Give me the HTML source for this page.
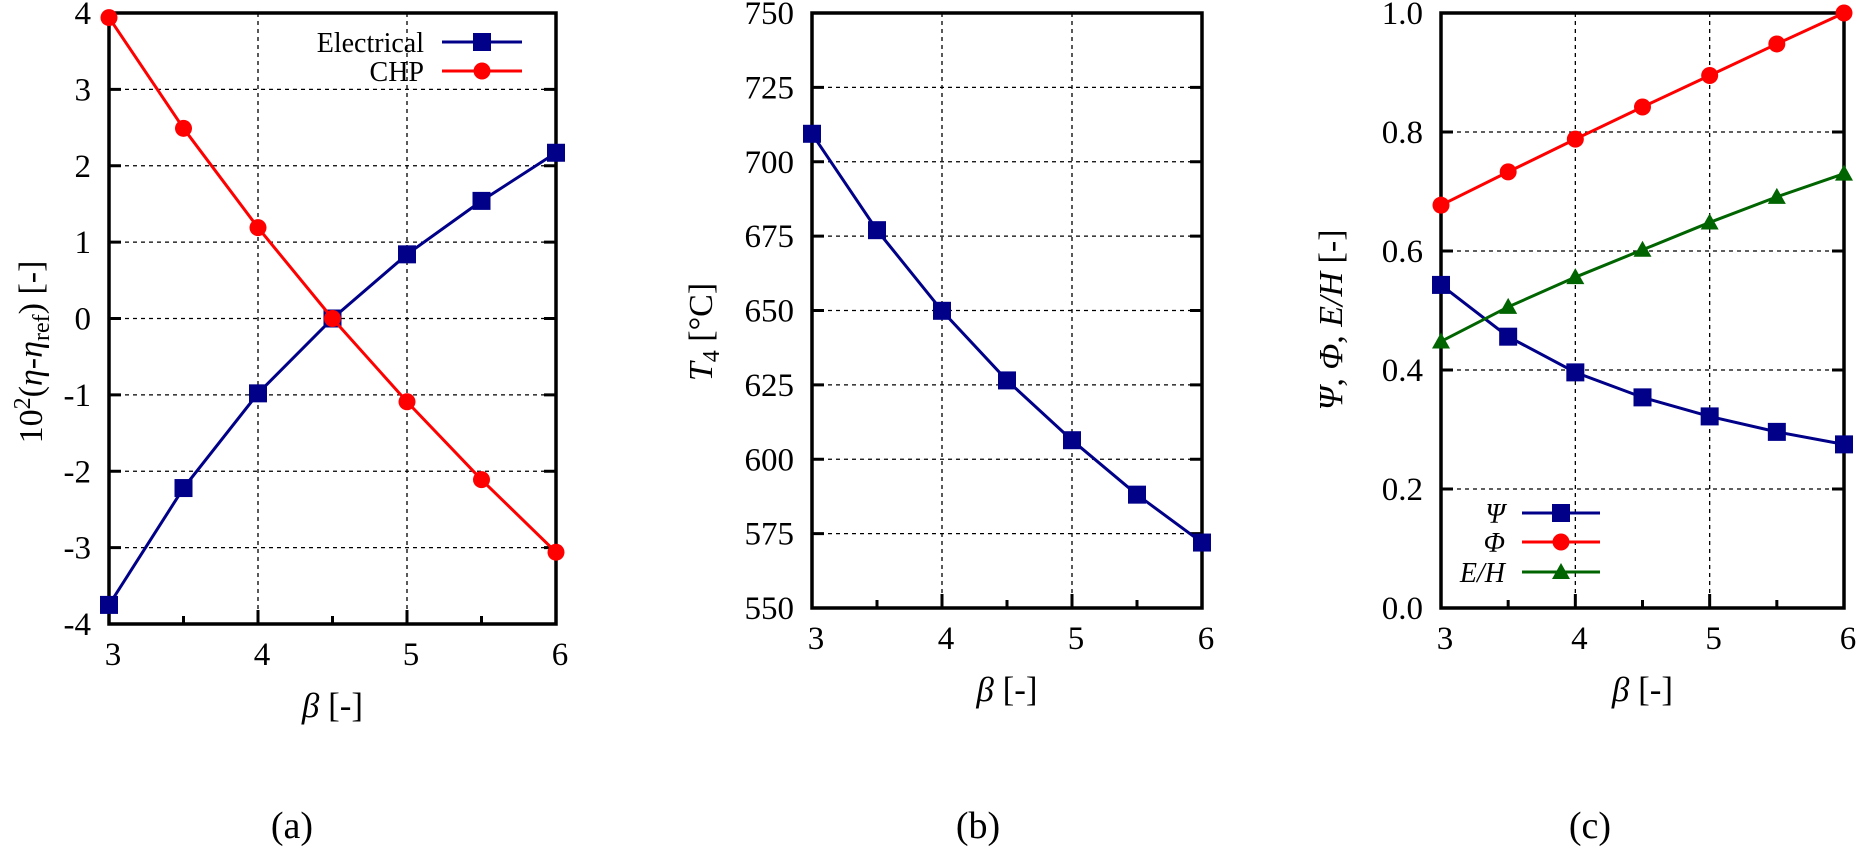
<!DOCTYPE html>
<html><head><meta charset="utf-8"><style>
html,body{margin:0;padding:0;background:#fff;}
svg{display:block;font-family:"Liberation Serif",serif;}
</style></head><body>
<svg id="fig" width="1857" height="852" viewBox="0 0 1857 852" xmlns="http://www.w3.org/2000/svg"></svg>
<script>
// shared
const betaValues = [3, 3.5, 4, 4.5, 5, 5.5, 6];
const xTickLabels = ["3", "4", "5", "6"];
// panel a
const electricalValues = [-3.75, -2.22, -0.98, 0.0, 0.84, 1.54, 2.17];
const chpValues = [3.94, 2.49, 1.19, 0.0, -1.09, -2.11, -3.06];
const aTickLabels = ["-4", "-3", "-2", "-1", "0", "1", "2", "3", "4"];
// panel b
const t4Values = [709.4, 677.0, 649.9, 626.5, 606.4, 588.1, 572.0];
const bTickLabels = ["550", "575", "600", "625", "650", "675", "700", "725", "750"];
// panel c
const psiValues = [0.543, 0.456, 0.396, 0.354, 0.322, 0.296, 0.275];
const phiValues = [0.677, 0.733, 0.788, 0.842, 0.895, 0.948, 1.0];
const ehValues = [0.448, 0.506, 0.556, 0.602, 0.648, 0.691, 0.730];
const cTickLabels = ["0.0", "0.2", "0.4", "0.6", "0.8", "1.0"];

const NS = "http://www.w3.org/2000/svg";
const svg = document.getElementById("fig");
function mk(tag, attrs, parent) {
  const e = document.createElementNS(NS, tag);
  for (const k in attrs) e.setAttribute(k, attrs[k]);
  (parent || svg).appendChild(e);
  return e;
}
const BLUE = "#000088", RED = "#ff0000", GREEN = "#006400";

function panel(cfg) {
  const g = mk("g", {});
  
  
  const X = v => cfg.x0 + (v - 3) / 3 * (cfg.x1 - cfg.x0);
  const Y = v => cfg.y1 - (v - cfg.ymin) / (cfg.ymax - cfg.ymin) * (cfg.y1 - cfg.y0);
  cfg.X = X; cfg.Y = Y;
  // grid
  const yt = cfg.ticks.map(Number);
  yt.forEach((v, i) => {
    if (i > 0 && i < yt.length - 1) {
      const l = mk("line", {x1: cfg.x0, x2: cfg.x1, y1: Y(v), y2: Y(v), stroke: "#000", "stroke-width": 1.3, "stroke-dasharray": "4,4"}, g);
      
      
    }
    const tk = mk("line", {x1: cfg.x0, x2: cfg.x0 + 12, y1: Y(v), y2: Y(v), stroke: "#000", "stroke-width": 3}, g);
    
    
    const tk2 = mk("line", {x1: cfg.x1, x2: cfg.x1 - 12, y1: Y(v), y2: Y(v), stroke: "#000", "stroke-width": 3}, g);
    
    
    const t = mk("text", {x: cfg.x0 - 18, y: Y(v) + 11, "text-anchor": "end", "font-size": 33}, g);
    t.textContent = cfg.ticks[i];
    
    
  });
  xTickLabels.forEach(s => {
    const v = Number(s);
    if (v > 3 && v < 6) {
      const l = mk("line", {x1: X(v), x2: X(v), y1: cfg.y0, y2: cfg.y1, stroke: "#000", "stroke-width": 1.3, "stroke-dasharray": "4,4"}, g);
      
      
    }
    const tk = mk("line", {x1: X(v), x2: X(v), y1: cfg.y1, y2: cfg.y1 - 14, stroke: "#000", "stroke-width": 3}, g);
    
    
    const t = mk("text", {x: X(v) + 4, y: cfg.y1 + 41, "text-anchor": "middle", "font-size": 33}, g);
    t.textContent = s;
    
    
  });
  [3.5, 4.5, 5.5].forEach(v => {
    const tk = mk("line", {x1: X(v), x2: X(v), y1: cfg.y1, y2: cfg.y1 - 8, stroke: "#000", "stroke-width": 3}, g);
    
    
  });
  const fr = mk("rect", {x: cfg.x0, y: cfg.y0, width: cfg.x1 - cfg.x0, height: cfg.y1 - cfg.y0, fill: "none", stroke: "#000", "stroke-width": 3.5}, g);
  
  
  // x title
  const xt = mk("text", {x: (cfg.x0 + cfg.x1) / 2, y: cfg.y1 + 93, "text-anchor": "middle", "font-size": 35}, g);
  xt.innerHTML = '<tspan font-style="italic">β</tspan> [-]';
  
  
  const pl = mk("text", {x: cfg.labelX, y: 838, "text-anchor": "middle", "font-size": 38}, g);
  pl.textContent = cfg.label;
  
  
  return g;
}

function series(cfg, g, vals, color, marker, name) {
  const sg = mk("g", {}, g);
  
  
  const pts = vals.map((v, i) => cfg.X(betaValues[i]) + "," + cfg.Y(v)).join(" ");
  const pl = mk("polyline", {points: pts, fill: "none", stroke: color, "stroke-width": 3}, sg);
  
  
  vals.forEach((v, i) => {
    const m = drawMarker(sg, cfg.X(betaValues[i]), cfg.Y(v), color, marker);
    
    
  });
}
function drawMarker(parent, x, y, color, marker) {
  if (marker === "square") return mk("rect", {x: x - 9, y: y - 9, width: 18, height: 18, fill: color}, parent);
  if (marker === "circle") return mk("circle", {cx: x, cy: y, r: 8.5, fill: color}, parent);
  return mk("polygon", {points: `${x},${y - 9} ${x + 9},${y + 7} ${x - 9},${y + 7}`, fill: color}, parent);
}
function legend(g, x0, x1, y, textX, label, color, marker, italic) {
  const lg = mk("g", {}, g);
  
  
  const t = mk("text", {x: textX, y: y + 10, "text-anchor": "end", "font-size": 28, "font-style": italic ? "italic" : "normal"}, lg);
  t.textContent = label;
  
  
  const l = mk("line", {x1: x0, x2: x1, y1: y, y2: y, stroke: color, "stroke-width": 3}, lg);
  
  
  const m = drawMarker(lg, (x0 + x1) / 2, y, color, marker);
  
  
}

// Panel a
const A = {name: "panel-a", x0: 109, x1: 556, y0: 13, y1: 624, ymin: -4, ymax: 4, ticks: aTickLabels, label: "(a)", labelX: 292};
const ga = panel(A);
series(A, ga, electricalValues, BLUE, "square", "electrical-series");
series(A, ga, chpValues, RED, "circle", "chp-series");
legend(ga, 442, 522, 42, 424, "Electrical", BLUE, "square", false);
legend(ga, 442, 522, 71, 424, "CHP", RED, "circle", false);
const ya = mk("text", {transform: "translate(42,352) rotate(-90)", "text-anchor": "middle", "font-size": 34}, ga);
ya.innerHTML = '10<tspan dy="-12" font-size="24">2</tspan><tspan dy="12">(</tspan><tspan font-style="italic">η</tspan>-<tspan font-style="italic">η</tspan><tspan dy="7" font-size="24">ref</tspan><tspan dy="-7">) [-]</tspan>';



// Panel b
const B = {name: "panel-b", x0: 812, x1: 1202, y0: 13, y1: 608, ymin: 550, ymax: 750, ticks: bTickLabels, label: "(b)", labelX: 978};
const gb = panel(B);
series(B, gb, t4Values, BLUE, "square", "t4-series");
const yb = mk("text", {transform: "translate(712,332) rotate(-90)", "text-anchor": "middle", "font-size": 34}, gb);
yb.innerHTML = '<tspan font-style="italic">T</tspan><tspan dy="7" font-size="24">4</tspan><tspan dy="-7"> [°C]</tspan>';



// Panel c
const C = {name: "panel-c", x0: 1441, x1: 1844, y0: 13, y1: 608, ymin: 0, ymax: 1, ticks: cTickLabels, label: "(c)", labelX: 1590};
const gc = panel(C);
series(C, gc, psiValues, BLUE, "square", "psi-series");
series(C, gc, phiValues, RED, "circle", "phi-series");
series(C, gc, ehValues, GREEN, "triangle", "eh-series");
legend(gc, 1522, 1600, 513, 1505, "Ψ", BLUE, "square", true);
legend(gc, 1522, 1600, 542, 1505, "Φ", RED, "circle", true);
legend(gc, 1522, 1600, 572, 1505, "E/H", GREEN, "triangle", true);
const yc = mk("text", {transform: "translate(1342,320) rotate(-90)", "text-anchor": "middle", "font-size": 34}, gc);
yc.innerHTML = '<tspan font-style="italic">Ψ</tspan>, <tspan font-style="italic">Φ</tspan>, <tspan font-style="italic">E/H</tspan> [-]';


</script>
</body></html>
